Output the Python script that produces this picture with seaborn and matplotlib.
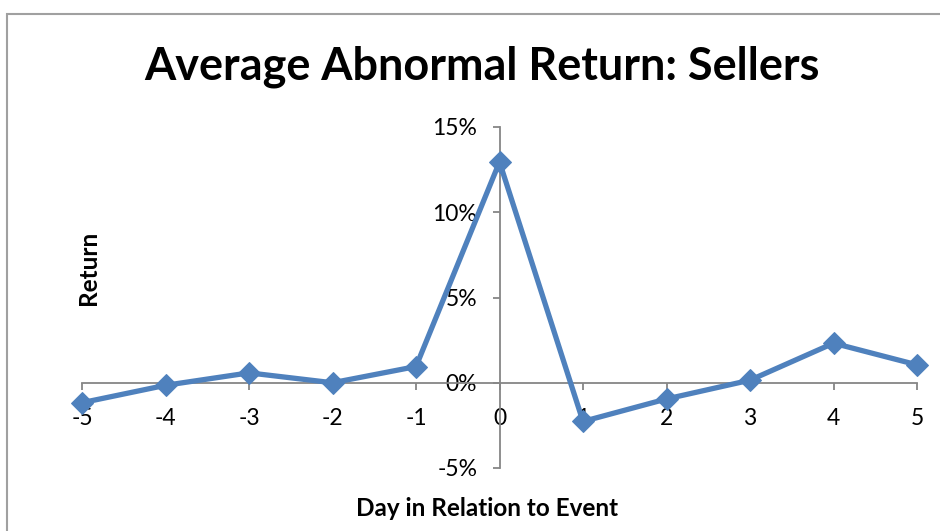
import matplotlib
matplotlib.use("Agg")
import matplotlib.pyplot as plt
import matplotlib.patches as mpatches
from matplotlib.ticker import FuncFormatter, MultipleLocator
import seaborn as sns
import pandas as pd

# Average abnormal return around the event day (percent)
days = [-5, -4, -3, -2, -1, 0, 1, 2, 3, 4, 5]
avg_return = [-1.17, -0.15, 0.58, 0.0, 0.95, 12.95, -2.27, -0.95, 0.15, 2.32, 1.05]

title = "Average Abnormal Return: Sellers"
x_label = "Day in Relation to Event"
y_label = "Return"

sns.set_theme(style="white")
plt.rcParams["font.family"] = ["Lato", "DejaVu Sans"]
plt.rcParams["axes.unicode_minus"] = False
plt.rcParams["text.color"] = "black"

df = pd.DataFrame({"day": days, "ret": avg_return})

fig = plt.figure(figsize=(9.4, 5.31), dpi=100)
ax = fig.add_axes([82 / 940, 1 - 468 / 531, (917 - 82) / 940, (468 - 127) / 531])

sns.lineplot(data=df, x="day", y="ret", ax=ax, color="#4F81BD", linewidth=3.8,
             marker="D", markersize=11, markeredgecolor="#4F81BD", zorder=5,
             clip_on=False)

ax.set_xlim(-5, 5)
ax.set_ylim(-5, 15)
ax.xaxis.set_major_locator(MultipleLocator(1))
ax.yaxis.set_major_locator(MultipleLocator(5))
ax.yaxis.set_major_formatter(FuncFormatter(lambda v, p: f"{v:.0f}%"))

axis_color = "#868686"
for side in ("top", "right"):
    ax.spines[side].set_visible(False)
ax.spines["left"].set_position(("data", 0))
ax.spines["bottom"].set_position(("data", 0))
for side in ("left", "bottom"):
    ax.spines[side].set_color(axis_color)
    ax.spines[side].set_linewidth(1.3)

ax.tick_params(axis="x", direction="out", length=5, width=1.3, color=axis_color,
               pad=13, labelsize=16.5, labelcolor="black", bottom=True)
ax.tick_params(axis="y", direction="out", length=5, width=1.3, color=axis_color,
               pad=11, labelsize=16.5, labelcolor="black", left=True)

ax.set_xlabel("")
ax.set_ylabel("")
fig.text(487 / 940, 1 - 508 / 531, x_label, ha="center", va="center",
         fontsize=17.5, fontweight="bold", color="black")
fig.text(88 / 940, 1 - 268 / 531, y_label, ha="center", va="center",
         rotation=90, fontsize=17.5, fontweight="bold", color="black")
fig.text(482 / 940, 1 - 67 / 531, title, ha="center", va="center",
         fontsize=32.4, fontweight="bold", color="black")

# Chart frame
fig.patches.append(mpatches.Rectangle((7, -20), 960, 531 - 14 + 20, fill=False,
                                      edgecolor="#A0A0A0", linewidth=1.5,
                                      transform=None, figure=fig))

fig.savefig("out.png", dpi=100)
